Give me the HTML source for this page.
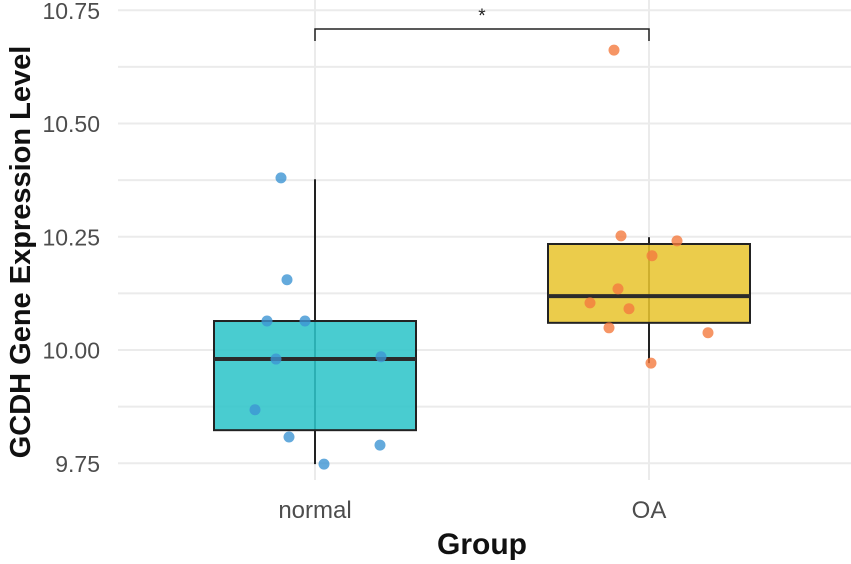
<!DOCTYPE html>
<html><head><meta charset="utf-8"><style>body{margin:0;background:#fff}svg{display:block;font-family:"Liberation Sans",Arial,sans-serif}</style></head>
<body>
<svg id="c" width="851" height="564"></svg>
<script>
const categories=["normal","OA"];
const normalValues=[10.380,10.155,10.064,10.064,9.980,9.985,9.868,9.808,9.790,9.748];
const oaValues=[10.662,10.252,10.241,10.208,10.135,10.104,10.091,10.049,10.038,9.971];
const normalJitter=[-34,-28,-48,-10,-39,66,-60,-26,65,9];
const oaJitter=[-35,-28,28,3,-31,-59,-20,-40,59,2];
const boxStats=[[9.748,9.823,9.980,10.064,10.377],[9.971,10.060,10.119,10.234,10.249]];
const yTicks=[9.75,10.00,10.25,10.50,10.75];
const yTickLabels=["9.75","10.00","10.25","10.50","10.75"];
const NS="http://www.w3.org/2000/svg";
const svg=document.getElementById('c');
const y=v=>350-(v-10)*453;
const x=i=>315+i*334;
function el(t,a,p){const e=document.createElementNS(NS,t);for(const k in a)e.setAttribute(k,a[k]);(p||svg).appendChild(e);return e;}
for(let k=0;k<yTicks.length;k++){
 const g=el('line',{x1:118,x2:851,y1:y(yTicks[k]),y2:y(yTicks[k]),stroke:'#ebebeb','stroke-width':2});
 
 
 if(k<yTicks.length-1){const m=el('line',{x1:118,x2:851,y1:y(yTicks[k]+0.125),y2:y(yTicks[k]+0.125),stroke:'#ebebeb','stroke-width':2});
 
 }
 const t=el('text',{x:100,y:y(yTicks[k])+8.5,'text-anchor':'end','font-size':23,fill:'#4d4d4d'});t.textContent=yTickLabels[k];
 
 
}
categories.forEach((c,i)=>{
 const g=el('line',{x1:x(i),x2:x(i),y1:0,y2:480,stroke:'#ebebeb','stroke-width':2});
 
 
 const t=el('text',{x:x(i),y:518,'text-anchor':'middle','font-size':24,fill:'#4d4d4d'});t.textContent=c;
 
 
});
const fills=['#2ec4c9','#e8c430'];
const ptCol=['#3d95d3','#f47b3e'];
boxStats.forEach((s,i)=>{
 const w=el('line',{x1:x(i),x2:x(i),y1:y(s[0]),y2:y(s[4]),stroke:'#222','stroke-width':2});
 
 
 const b=el('rect',{x:x(i)-101,width:202,y:y(s[3]),height:y(s[1])-y(s[3]),fill:fills[i],'fill-opacity':0.87,stroke:'#222','stroke-width':2});
 
 
 const m=el('line',{x1:x(i)-101,x2:x(i)+101,y1:y(s[2]),y2:y(s[2]),stroke:'#2b2b2b','stroke-width':4});
 
 
});
[[normalValues,normalJitter],[oaValues,oaJitter]].forEach(([vals,jit],i)=>{
 vals.forEach((v,j)=>{
  const p=el('circle',{cx:x(i)+jit[j],cy:y(v),r:5.5,fill:ptCol[i],'fill-opacity':0.8});
  
  
 });
});
const br=el('path',{d:`M${x(0)} 41V29H${x(1)}V41`,fill:'none',stroke:'#222','stroke-width':1.5});


const st=el('text',{x:(x(0)+x(1))/2,y:22,'text-anchor':'middle','font-size':19,fill:'#222'});st.textContent='*';


const xt=el('text',{x:482,y:554,'text-anchor':'middle','font-size':30,'font-weight':'bold',fill:'#111'});xt.textContent='Group';


const yt=el('text',{x:0,y:0,transform:'translate(30,252) rotate(-90)','text-anchor':'middle','font-size':29,'font-weight':'bold',fill:'#111'});yt.textContent='GCDH Gene Expression Level';


</script>
</body></html>
